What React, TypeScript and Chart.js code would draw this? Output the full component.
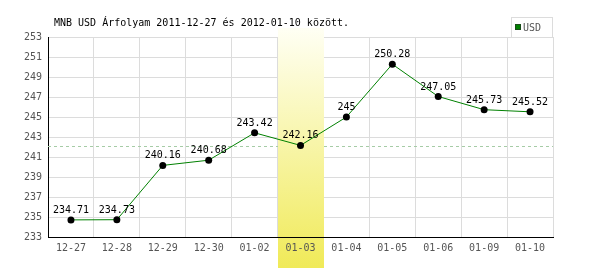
import React, { useEffect, useRef } from "react";
import { Chart, registerables } from "chart.js";

Chart.register(...registerables);

const TITLE = "MNB USD Árfolyam 2011-12-27 és 2012-01-10 között.";
const categories = ["12-27", "12-28", "12-29", "12-30", "01-02", "01-03", "01-04", "01-05", "01-06", "01-09", "01-10"];
const usdValues = [234.71, 234.73, 240.16, 240.68, 243.42, 242.16, 245, 250.28, 247.05, 245.73, 245.52];
const valueLabels = ["234.71", "234.73", "240.16", "240.68", "243.42", "242.16", "245", "250.28", "247.05", "245.73", "245.52"];
const yTicks = [233, 235, 237, 239, 241, 243, 245, 247, 249, 251, 253];
const REFERENCE_VALUE = 242.13;
const HIGHLIGHT = "01-03";
const SERIES_NAME = "USD";

const FONT = '"DejaVu Sans Mono", monospace';

const overlayPlugin = {
  id: "overlay",
  beforeDatasetsDraw(chart: any) {
    const { ctx, chartArea, scales } = chart;
    const x = scales.x;
    const y = scales.y;
    ctx.save();
    // reference dashed line
    const yy = Math.round(y.getPixelForValue(REFERENCE_VALUE)) + 0.5;
    ctx.strokeStyle = "#a6cca6";
    ctx.lineWidth = 1;
    ctx.setLineDash([3, 3]);
    ctx.beginPath();
    ctx.moveTo(chartArea.left, yy);
    ctx.lineTo(chartArea.right, yy);
    ctx.stroke();
    ctx.setLineDash([]);
    // highlight band
    const idx = categories.indexOf(HIGHLIGHT);
    const half = (x.getPixelForValue(1) - x.getPixelForValue(0)) / 2;
    const cx = x.getPixelForValue(idx);
    const top = 28;
    const bottom = 268;
    const grad = ctx.createLinearGradient(0, top, 0, bottom);
    grad.addColorStop(0, "#fffff4");
    grad.addColorStop(1, "#f0ea58");
    ctx.fillStyle = grad;
    ctx.fillRect(Math.round(cx - half), top, Math.round(2 * half), bottom - top);
    ctx.restore();
  },
  afterDatasetsDraw(chart: any) {
    const { ctx } = chart;
    const meta = chart.getDatasetMeta(0);
    ctx.save();
    ctx.font = "10px " + FONT;
    ctx.fillStyle = "#000";
    ctx.textAlign = "center";
    ctx.textBaseline = "alphabetic";
    meta.data.forEach((pt: any, i: number) => {
      ctx.fillText(valueLabels[i], pt.x, pt.y - 7);
    });
    ctx.restore();
  },
  afterDraw(chart: any) {
    const { ctx } = chart;
    ctx.save();
    // title
    ctx.font = "10px " + FONT;
    ctx.fillStyle = "#000";
    ctx.textAlign = "left";
    ctx.textBaseline = "alphabetic";
    ctx.fillText(TITLE, 54, 26);
    // legend
    ctx.fillStyle = "#fff";
    ctx.fillRect(511.5, 17.5, 41, 20);
    ctx.strokeStyle = "#dcdcdc";
    ctx.lineWidth = 1;
    ctx.strokeRect(511.5, 17.5, 41, 20);
    ctx.fillStyle = "#008000";
    ctx.fillRect(515, 24, 6, 6);
    ctx.strokeStyle = "#1a4d1a";
    ctx.strokeRect(515.5, 24.5, 5, 5);
    ctx.fillStyle = "#555";
    ctx.textBaseline = "middle";
    ctx.fillText(SERIES_NAME, 523, 28);
    ctx.restore();
  },
};

export default function App() {
  const ref = useRef<HTMLCanvasElement>(null);
  useEffect(() => {
    if (!ref.current) return;
    const chart = new Chart(ref.current, {
      type: "line",
      data: {
        labels: categories,
        datasets: [
          {
            label: SERIES_NAME,
            data: usdValues,
            borderColor: "#008000",
            borderWidth: 1,
            pointRadius: 3.5,
            pointBackgroundColor: "#000",
            pointBorderColor: "#000",
            pointBorderWidth: 0,
            tension: 0,
            fill: false,
          },
        ],
      },
      options: {
        animation: false,
        responsive: false,
        devicePixelRatio: 1,
        layout: { padding: { top: 37, left: 0, right: 47, bottom: 0 } },
        plugins: { legend: { display: false }, title: { display: false }, tooltip: { enabled: false } },
        scales: {
          x: {
            offset: true,
            afterFit: (axis: any) => {
              axis.height = 33;
            },
            grid: { offset: true, color: "#dcdcdc", drawTicks: false },
            border: { color: "#000", width: 1, z: 1 },
            ticks: { z: 1, color: "#555", font: { family: FONT, size: 10 }, padding: 5, autoSkip: false, maxRotation: 0 },
          },
          y: {
            min: yTicks[0],
            max: yTicks[yTicks.length - 1],
            afterFit: (axis: any) => {
              axis.width = 48;
            },
            afterBuildTicks: (axis: any) => {
              axis.ticks = yTicks.map((v) => ({ value: v }));
            },
            grid: { color: "#dcdcdc", drawTicks: false },
            border: { color: "#000", width: 1 },
            ticks: { color: "#555", font: { family: FONT, size: 10 }, padding: 6 },
          },
        },
      },
      plugins: [overlayPlugin],
    });
    return () => chart.destroy();
  }, []);
  return (
    <div style={{ position: "fixed", left: 0, top: 0, width: 600, height: 270, background: "#fff" }}>
      <canvas ref={ref} width={600} height={270} style={{ display: "block" }} />
    </div>
  );
}
